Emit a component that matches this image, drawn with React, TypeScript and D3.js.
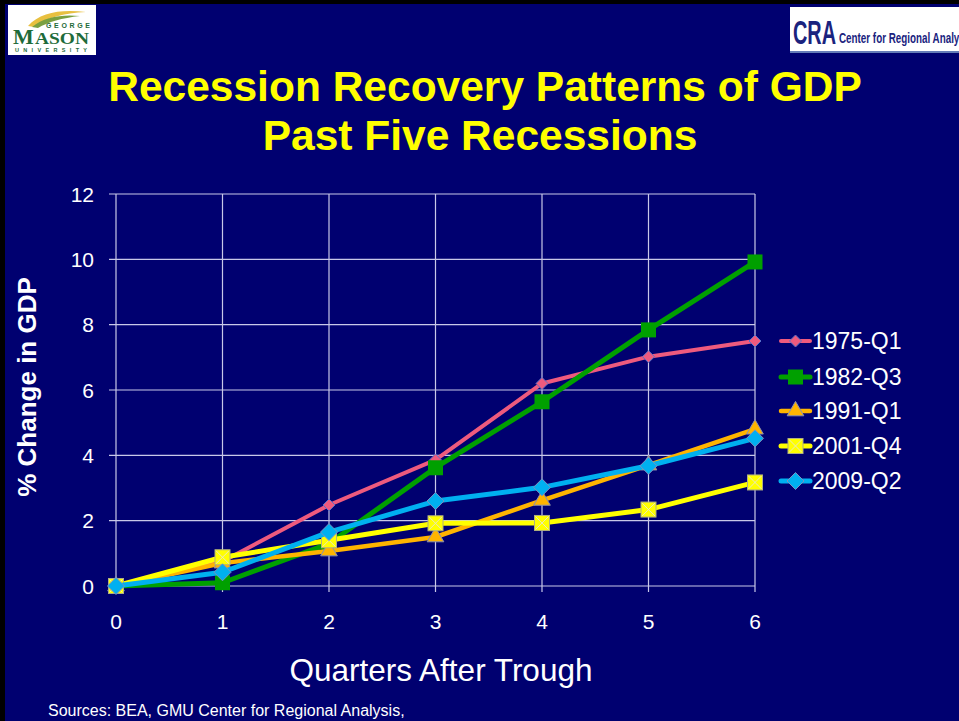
import React from "react";
import * as d3 from "d3";

const quarters = [0, 1, 2, 3, 4, 5, 6];
const yTicks = [0, 2, 4, 6, 8, 10, 12];
const seriesNames = ["1975-Q1", "1982-Q3", "1991-Q1", "2001-Q4", "2009-Q2"];
const s1975 = [0, 0.75, 2.48, 3.86, 6.2, 7.02, 7.5];
const s1982 = [0, 0.1, 1.3, 3.62, 5.64, 7.84, 9.92];
const s1991 = [0, 0.7, 1.07, 1.5, 2.62, 3.7, 4.8];
const s2001 = [0, 0.88, 1.4, 1.92, 1.93, 2.34, 3.17];
const s2009 = [0, 0.42, 1.65, 2.6, 3.02, 3.68, 4.52];
const seriesValues = [s1975, s1982, s1991, s2001, s2009];
const colors = ["#EE5A7E", "#00A000", "#FFB400", "#FFFF00", "#00B0F0"];
const markerTypes = ["diamondSmall", "square", "triangle", "squareX", "diamond"];
const lineWidths = [4, 5, 4.5, 5, 5];

const title1 = "Recession Recovery Patterns of GDP";
const title2 = "Past Five Recessions";
const yLabel = "% Change in GDP";
const xLabel = "Quarters After Trough";
const sourceText = "Sources: BEA, GMU Center for Regional Analysis,";

const W = 959;
const H = 721;
const NAVY = "#000070";

function diamondPath(r: number) {
  return `M0,${-r}L${r},0L0,${r}L${-r},0Z`;
}

function Marker({ type, x, y, color }: { type: string; x: number; y: number; color: string }) {
  if (type === "diamondSmall") {
    return <path d={diamondPath(6)} transform={`translate(${x},${y})`} fill={color} stroke="#5A70C8" strokeWidth={1} />;
  }
  if (type === "diamond") {
    return <path d={diamondPath(8.5)} transform={`translate(${x},${y})`} fill={color} stroke="#7A90C0" strokeWidth={1} />;
  }
  if (type === "square") {
    const s = 15;
    return <rect x={x - s / 2} y={y - s / 2} width={s} height={s} fill={color} />;
  }
  if (type === "triangle") {
    const p = d3.symbol(d3.symbolTriangle, 120)();
    return <path d={p || ""} transform={`translate(${x},${y})`} fill={color} stroke="#8A90B0" strokeWidth={1} />;
  }
  const s = 15;
  return (
    <g>
      <rect x={x - s / 2} y={y - s / 2} width={s} height={s} fill={color} stroke="#B0B080" strokeWidth={1} />
      <line x1={x - s / 2 + 1} y1={y - s / 2 + 1} x2={x + s / 2 - 1} y2={y + s / 2 - 1} stroke="#E8E8C0" strokeWidth={1} />
      <line x1={x - s / 2 + 1} y1={y + s / 2 - 1} x2={x + s / 2 - 1} y2={y - s / 2 + 1} stroke="#E8E8C0" strokeWidth={1} />
    </g>
  );
}

export default function App() {
  const x = d3.scaleLinear().domain([0, 6]).range([116, 755]);
  const y = d3.scaleLinear().domain([0, 12]).range([586, 194]);
  const line = d3
    .line<number>()
    .x((_, i) => x(quarters[i]))
    .y((d) => y(d));
  const gridColor = "#C8C8E8";
  const font = "Arial, 'Liberation Sans', sans-serif";
  const legendY = [341, 377, 411, 446, 481];
  const green = "#1E6B3A";

  return (
    <svg
      width={W}
      height={H}
      style={{ position: "absolute", left: 0, top: 0, display: "block" }}
      fontFamily={font}
    >
      <rect x={0} y={0} width={W} height={H} fill="#000" />
      <rect x={5} y={4} width={W - 5} height={H - 4} fill={NAVY} />

      {/* GMU logo */}
      <g>
        <rect x={8} y={5} width={88} height={50} fill="#fff" />
        <path d="M28,26 C40,12 62,9 86,12 C64,13 46,18 34,27 Z" fill="#E8C040" />
        <path d="M32,27 C44,17 62,14 80,16 C62,18 48,22 38,28 Z" fill="#7AA040" />
        <text x={13} y={44} fontSize={22} fontWeight="bold" fill={green} fontFamily="'Liberation Serif', 'DejaVu Serif', serif">M</text>
        <text x={90} y={28} fontSize={7} fontWeight="bold" fill={green} textAnchor="end" textLength={44} lengthAdjust="spacing">GEORGE</text>
        <text x={35} y={44} fontSize={16} fontWeight="bold" fill={green} fontFamily="'Liberation Serif', 'DejaVu Serif', serif" textLength={54} lengthAdjust="spacingAndGlyphs">ASON</text>
        <text x={51} y={52} fontSize={5.5} fontWeight="bold" fill={green} textAnchor="middle" textLength={72} lengthAdjust="spacing">UNIVERSITY</text>
      </g>

      {/* CRA logo */}
      <g>
        <rect x={790} y={7} width={W - 790} height={46} fill="#fff" />
        <line x1={790} y1={52} x2={W} y2={52} stroke="#3050A0" strokeWidth={1.5} />
        <text x={793} y={44} fontSize={34} fontWeight="bold" fill="#1A237E" textLength={43} lengthAdjust="spacingAndGlyphs">CRA</text>
        <text x={839} y={43} fontSize={15} fill="#1A237E" fontWeight="bold" textLength={134} lengthAdjust="spacingAndGlyphs">Center for Regional Analysis</text>
      </g>

      {/* Title */}
      <text x={485} y={101} fontSize={42.5} fontWeight="bold" fill="#FFFF00" textAnchor="middle">{title1}</text>
      <text x={480} y={150} fontSize={42.5} fontWeight="bold" fill="#FFFF00" textAnchor="middle">{title2}</text>

      {/* Grid */}
      {yTicks.map((t) => (
        <line key={"h" + t} x1={109} x2={x(6)} y1={y(t)} y2={y(t)} stroke={gridColor} strokeWidth={1.2} />
      ))}
      {quarters.map((q) => (
        <line key={"v" + q} x1={x(q)} x2={x(q)} y1={y(12)} y2={y(0) + 6} stroke={gridColor} strokeWidth={1.2} />
      ))}

      {/* Tick labels */}
      {yTicks.map((t) => (
        <text key={"yl" + t} x={94} y={y(t) + 7.5} fontSize={21} fill="#fff" textAnchor="end">{t}</text>
      ))}
      {quarters.map((q) => (
        <text key={"xl" + q} x={x(q)} y={629} fontSize={21} fill="#fff" textAnchor="middle">{q}</text>
      ))}

      {/* Axis titles */}
      <text transform={`translate(36,387) rotate(-90)`} fontSize={26} fontWeight="bold" fill="#fff" textAnchor="middle">{yLabel}</text>
      <text x={441} y={681} fontSize={31.5} fill="#fff" textAnchor="middle">{xLabel}</text>

      {/* Series */}
      {seriesValues.map((vals, si) => (
        <g key={"s" + si}>
          <path d={line(vals) || ""} fill="none" stroke={colors[si]} strokeWidth={lineWidths[si]} strokeLinejoin="round" />
          {vals.map((v, i) => (
            <Marker key={i} type={markerTypes[si]} x={x(quarters[i])} y={y(v)} color={colors[si]} />
          ))}
        </g>
      ))}

      {/* Legend */}
      {seriesNames.map((n, si) => (
        <g key={"lg" + si}>
          <line x1={781} x2={810} y1={legendY[si]} y2={legendY[si]} stroke={colors[si]} strokeWidth={lineWidths[si]} strokeLinecap="round" />
          <Marker type={markerTypes[si]} x={795.5} y={legendY[si]} color={colors[si]} />
          <text x={812} y={legendY[si] + 8} fontSize={23} fill="#fff">{n}</text>
        </g>
      ))}

      {/* Source */}
      <text x={48} y={716} fontSize={16} fill="#fff">{sourceText}</text>
    </svg>
  );
}
